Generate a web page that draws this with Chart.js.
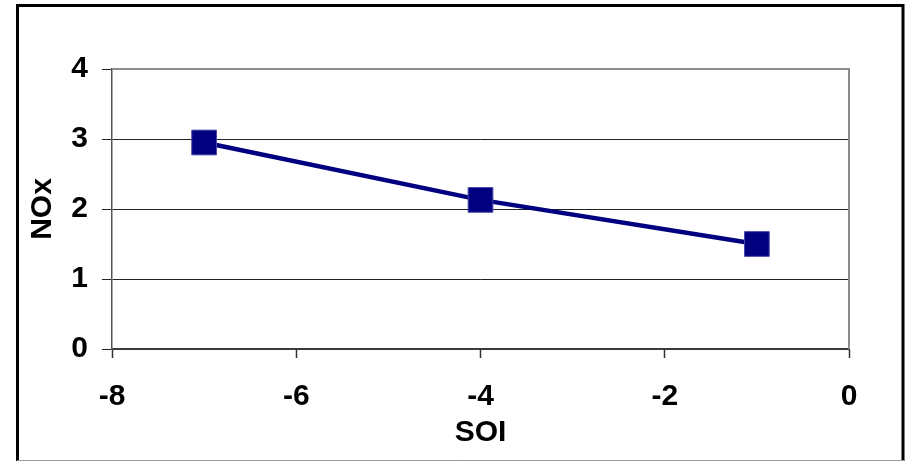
<!DOCTYPE html>
<html>
<head>
<meta charset="utf-8">
<script src="https://cdn.jsdelivr.net/npm/chart.js@4/dist/chart.umd.min.js"></script>
<style>
  html, body { margin: 0; padding: 0; background: #fff; }
  #wrap { width: 906px; height: 461px; }
</style>
</head>
<body>
<div id="wrap"><canvas id="soiChart" width="906" height="461"></canvas></div>
<script>
// values
const soiValues = [-7, -4, -1];
const noxValues = [2.95, 2.13, 1.5];
const xTicks = [-8, -6, -4, -2, 0];
const yTicks = [0, 1, 2, 3, 4];

const tickFont = { family: 'Liberation Sans, Arial, sans-serif', size: 30, weight: 'bold' };

// frame around the whole picture + grey top/right edge of plot area
const framePlugin = {
    id: 'frame',
    beforeDatasetsDraw(chart) {
        const a = chart.chartArea, ctx = chart.ctx
        ctx.save()
        ctx.strokeStyle = '#8c8c8c'
        ctx.lineWidth = 2
        ctx.beginPath()
        ctx.moveTo(a.left, a.top)
        ctx.lineTo(a.right, a.top)
        ctx.lineTo(a.right, a.bottom)
        ctx.stroke()
        ctx.restore()
    },
    afterDraw(chart) {
        const ctx = chart.ctx
        ctx.save()
        ctx.strokeStyle = '#000'
        ctx.lineWidth = 3
        ctx.beginPath()
        ctx.moveTo(17.5, 470)
        ctx.lineTo(17.5, 5.5)
        ctx.lineTo(903, 5.5)
        ctx.lineTo(903, 470)
        ctx.stroke()
        ctx.strokeStyle = '#999'
        ctx.lineWidth = 1
        ctx.beginPath()
        ctx.moveTo(17, 460.5)
        ctx.lineTo(904, 460.5)
        ctx.stroke()
        ctx.restore()
    }
}

const ctx = document.getElementById('soiChart').getContext('2d')
new Chart(ctx, {
    type: 'line',
    data: {
        datasets: [{
            data: soiValues.map((s, i) => ({ x: s, y: noxValues[i] })),
            borderColor: '#000080',
            borderWidth: 4.5,
            pointStyle: 'rect',
            pointRadius: 17.5,
            pointBackgroundColor: '#000080',
            pointBorderColor: '#4a4aa8',
            pointBorderWidth: 1,
            tension: 0
        }]
    },
    options: {
        responsive: false,
        animation: false,
        layout: { padding: { left: 0, top: 69, right: 57, bottom: 0 } },
        plugins: { legend: { display: false }, tooltip: { enabled: false } },
        scales: {
            x: {
                type: 'linear',
                min: -8, max: 0,
                afterBuildTicks: s => { s.ticks = xTicks.map(v => ({ value: v })) },
                afterFit: s => { s.height = 112 },
                grid: { drawOnChartArea: false, drawTicks: true, tickLength: 9, tickColor: '#333', tickWidth: 1.5 },
                border: { color: '#3a3a3a', width: 2 },
                ticks: { font: tickFont, color: '#000', padding: 21, maxRotation: 0 },
                title: { display: true, text: 'SOI', font: tickFont, color: '#000', padding: { top: 0, bottom: 10 } }
            },
            y: {
                min: 0, max: 4,
                afterBuildTicks: s => { s.ticks = yTicks.map(v => ({ value: v })) },
                afterFit: s => { s.width = 112 },
                grid: {
                    color: c => c.tick && c.tick.value === 4 ? '#8c8c8c' : '#222',
                    lineWidth: 1,
                    tickLength: 10,
                    tickColor: '#222'
                },
                border: { color: '#555', width: 1.5 },
                ticks: { font: tickFont, color: '#000', padding: 14 },
                title: { display: true, text: 'NOx', font: tickFont, color: '#000', padding: { top: 25, bottom: 0 } }
            }
        }
    },
    plugins: [framePlugin]
})
</script>
</body>
</html>
